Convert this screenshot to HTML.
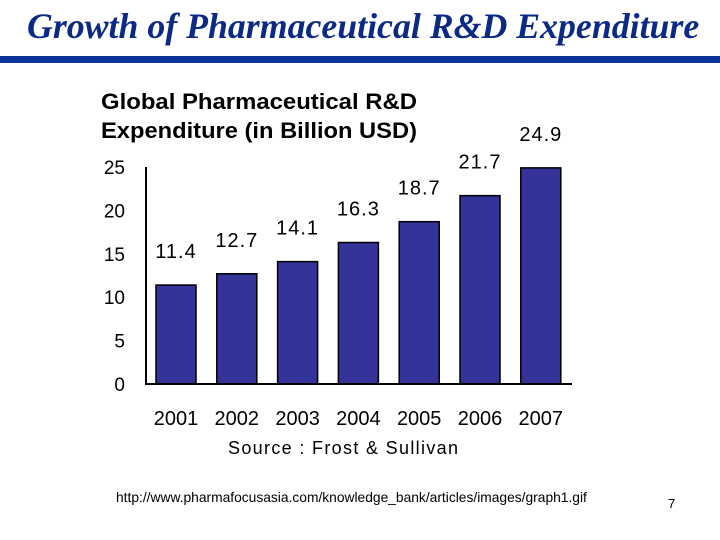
<!DOCTYPE html>
<html><head><meta charset="utf-8"><style>
body{margin:0;width:720px;height:540px;background:#fff;position:relative;overflow:hidden;font-family:"Liberation Sans",sans-serif}
#title{position:absolute;left:27px;top:5px;font:italic bold 35.8px "Liberation Serif",serif;color:#0b2a86;white-space:nowrap}
#rule{position:absolute;left:0;top:56px;width:720px;height:7px;background:#0b3399}
#url{position:absolute;left:116px;top:490px;font-size:13.8px;color:#000;white-space:nowrap}
#pg{position:absolute;left:668px;top:496px;font-size:13px}
</style></head><body>
<div id="title">Growth of Pharmaceutical R&amp;D Expenditure</div>
<div id="rule"></div>
<svg id="chart" width="720" height="540" style="position:absolute;left:0;top:0" font-family="Liberation Sans, sans-serif">
<text x="101" y="109" font-size="22.5" font-weight="bold" textLength="316" lengthAdjust="spacingAndGlyphs">Global Pharmaceutical R&amp;D</text>
<text x="101" y="138" font-size="22.5" font-weight="bold" textLength="316" lengthAdjust="spacingAndGlyphs">Expenditure  (in Billion USD)</text>
<g id="g"></g>
<text x="343" y="454" font-size="18" text-anchor="middle" textLength="230">Source : Frost &amp; Sullivan</text>
</svg>
<div id="url">http://www.pharmafocusasia.com/knowledge_bank/articles/images/graph1.gif</div>
<div id="pg">7</div>
<script>
const categories=["2001","2002","2003","2004","2005","2006","2007"];
const values=[11.4,12.7,14.1,16.3,18.7,21.7,24.9];
const yTicks=[0,5,10,15,20,25];
const x0=156,step=60.8,bw=40,base=384,ppu=8.68;
const ns="http://www.w3.org/2000/svg",g=document.getElementById('g');
function y(v){return base-v*ppu;}
function mk(t,a){const e=document.createElementNS(ns,t);for(const k in a)e.setAttribute(k,a[k]);g.appendChild(e);return e;}
yTicks.forEach(t=>{const e=mk('text',{x:125,y:y(t)+7,'font-size':19,'text-anchor':'end'});e.textContent=t;

});
categories.forEach((c,i)=>{const bx=x0+i*step;
const r=mk('rect',{x:bx,y:y(values[i]),width:bw,height:base-y(values[i]),fill:'#333399',stroke:'#000','stroke-width':1.5});


const v=mk('text',{x:bx+bw/2,y:y(values[i])-27,'font-size':20,'text-anchor':'middle','letter-spacing':'1'});v.textContent=values[i].toFixed(1);


const l=mk('text',{x:bx+bw/2,y:425,'font-size':20,'text-anchor':'middle'});l.textContent=c;

});
const ya=mk('line',{x1:146,y1:167,x2:146,y2:base,stroke:'#000','stroke-width':2});


const xa=mk('line',{x1:145,y1:base,x2:572,y2:base,stroke:'#000','stroke-width':2});


</script>
</body></html>
